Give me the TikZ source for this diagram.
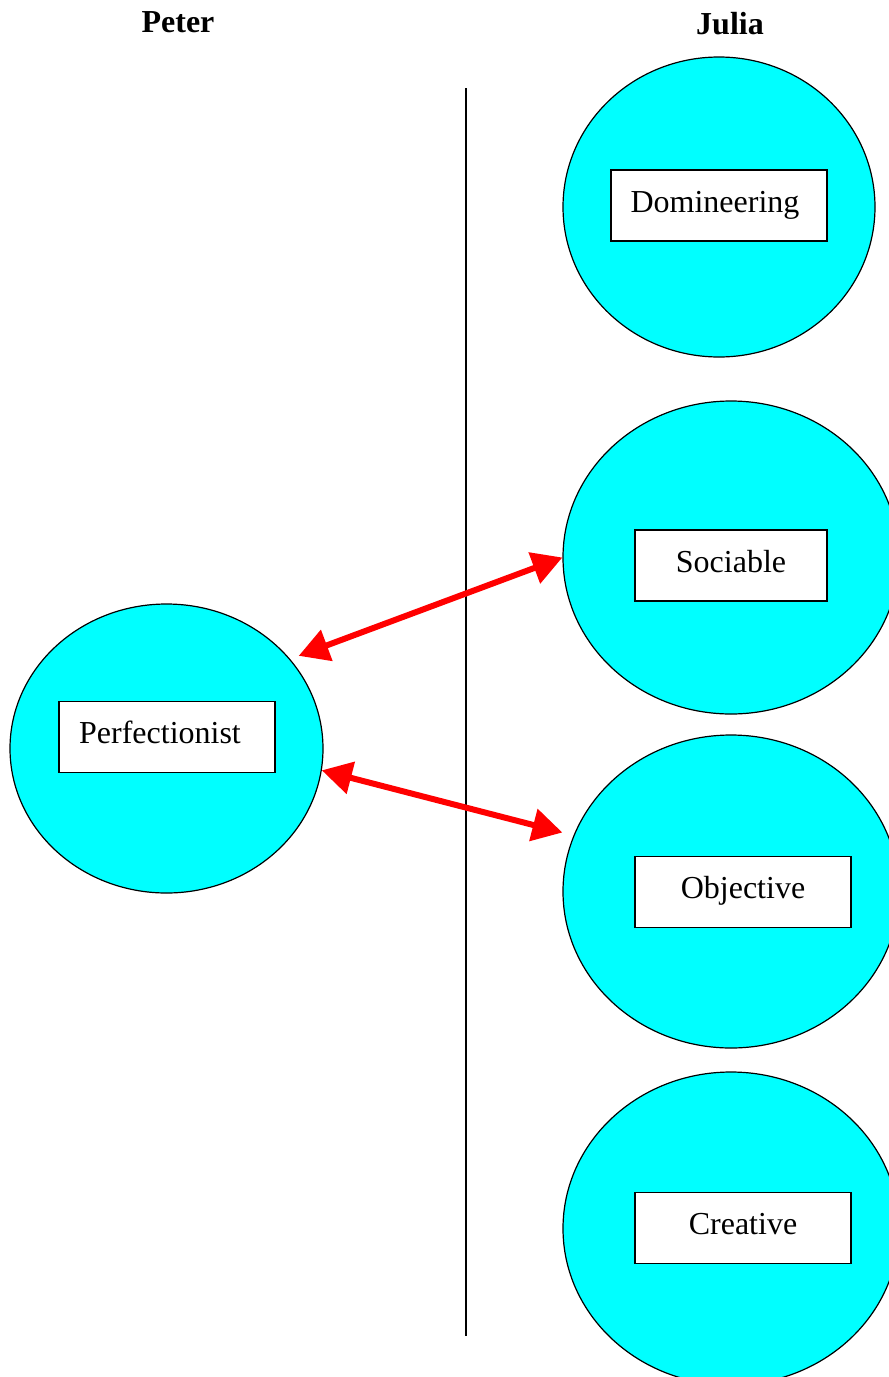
\documentclass[tikz,border=0pt]{standalone}
\usepackage{fontspec}
\setmainfont{Liberation Serif}
\usepackage{tikz}
\usetikzlibrary{shapes.geometric,arrows.meta,calc}

\definecolor{aqua}{RGB}{0,255,255}
\tikzset{
  trait/.style={ellipse,draw=black,line width=1.2pt,fill=aqua,inner sep=0pt},
  tag/.style={rectangle,draw=black,line width=1.2pt,fill=white,inner xsep=0pt,inner ysep=0pt,
              text height=42pt,text depth=29pt,minimum height=71pt,font=\fontsize{32}{38}\selectfont},
  link/.style={red,line width=6pt,{Triangle[length=30pt,width=32pt]}-{Triangle[length=30pt,width=32pt]}}
}

\begin{document}
\begin{tikzpicture}[x=1pt,y=-1pt]
   \useasboundingbox (0,0) rectangle (889,1377);
   \clip (0,0) rectangle (889,1377);
   % headings
   \node[font=\fontsize{32}{38}\selectfont\bfseries] (peter) at (178,22) {Peter};
   \node[font=\fontsize{32}{38}\selectfont\bfseries] (julia) at (730,24) {Julia};
   % divider
   \coordinate (top) at (466,88);
   \coordinate (bot) at (466,1336);
   \draw[line width=1.2pt] (top) -- (bot);
   % traits
   \node[trait,minimum width=313pt,minimum height=289pt] (perf) at (166.5,748.5) {};
   \node[trait,minimum width=312pt,minimum height=300pt] (dom) at (719,207) {};
   \node[trait,minimum width=336pt,minimum height=313pt] (soc) at (731,557.5) {};
   \node[trait,minimum width=336pt,minimum height=313pt] (obj) at (731,891.5) {};
   \node[trait,minimum width=336pt,minimum height=313pt] (cre) at (731,1228.5) {};
   \node[tag,minimum width=216pt] (perftag) at (167,737) {\hspace*{-14pt}Perfectionist};
   \node[tag,minimum width=216pt] (domtag) at (719,205.5) {\hspace*{-8pt}Domineering};
   \node[tag,minimum width=192pt] (soctag) at (731,565.5) {Sociable};
   \node[tag,minimum width=216pt] (objtag) at (743,892) {Objective};
   \node[tag,minimum width=216pt] (cretag) at (743,1228) {Creative};
   % links
   \draw[link] ($(perf.35)+(7,-5)$) -- (soc.180);
   \draw[link] (perf.-8) -- ($(obj.west)+(0,-59)$);
\end{tikzpicture}
\end{document}
